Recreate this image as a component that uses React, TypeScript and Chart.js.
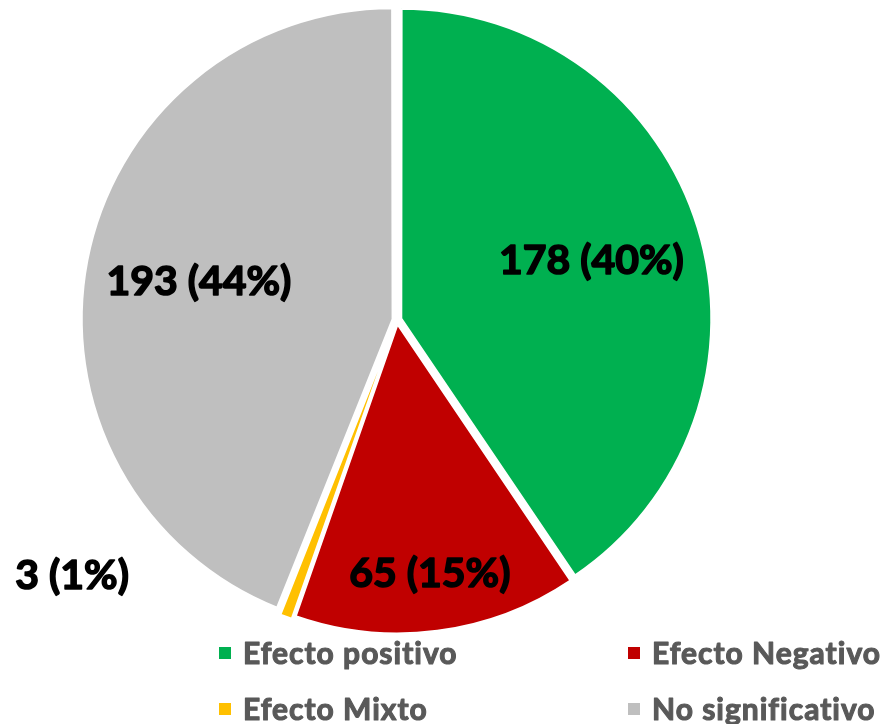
import React, { useEffect, useRef } from "react";
import { Chart, registerables } from "chart.js";

Chart.register(...registerables);

const categories = ["Efecto positivo", "Efecto Negativo", "Efecto Mixto", "No significativo"];
const counts = [178, 65, 3, 193];
const percentLabels = ["40%", "15%", "1%", "44%"];
const colors = ["#00B050", "#C00000", "#FFC000", "#BFBFBF"];

// label placement: radial fraction of the outer radius, plus pixel shift
const labelRadius = [0.66, 0.83, 1.0, 0.655];
const labelShift: [number, number][] = [[0, 0], [0, 0], [-217, -33], [0, 0]];

const labelPlugin = {
  id: "sliceLabels",
  afterDatasetsDraw(chart: any) {
    const ctx = chart.ctx;
    const meta = chart.getDatasetMeta(0);
    ctx.save();
    ctx.font = "bold 41px Lato";
    ctx.fillStyle = "#000000";
    ctx.strokeStyle = "#000000";
    ctx.lineWidth = 1.6;
    ctx.lineJoin = "round";
    ctx.textAlign = "center";
    ctx.textBaseline = "middle";
    meta.data.forEach((arc: any, i: number) => {
      const p = arc.getProps(["x", "y", "startAngle", "endAngle", "outerRadius"], true);
      const mid = (p.startAngle + p.endAngle) / 2;
      const r = p.outerRadius * labelRadius[i];
      const x = p.x + Math.cos(mid) * r + labelShift[i][0];
      const y = p.y + Math.sin(mid) * r + labelShift[i][1];
      const t = `${counts[i]} (${percentLabels[i]})`;
      ctx.fillText(t, x, y);
      ctx.strokeText(t, x, y);
    });
    ctx.restore();
  },
};

const legendPlugin = {
  id: "gridLegend",
  afterDraw(chart: any) {
    const ctx = chart.ctx;
    const area = chart.chartArea;
    const colX = [area.left + 140, area.left + 549];
    const rowY = [area.bottom + 15, area.bottom + 71];
    ctx.save();
    ctx.font = "bold 30px Lato";
    (ctx as any).letterSpacing = "1px";
    ctx.textBaseline = "middle";
    ctx.textAlign = "left";
    ctx.lineWidth = 1.1;
    ctx.lineJoin = "round";
    categories.forEach((c, i) => {
      const col = i % 2;
      const row = Math.floor(i / 2);
      const x = colX[col];
      const y = rowY[row];
      ctx.fillStyle = colors[i];
      ctx.fillRect(x, y - 6, 12, 12);
      ctx.fillStyle = "#595959";
      ctx.strokeStyle = "#595959";
      ctx.fillText(c, x + 24, y + 1);
      ctx.strokeText(c, x + 24, y + 1);
    });
    ctx.restore();
  },
};

export default function App() {
  const ref = useRef<HTMLCanvasElement | null>(null);
  useEffect(() => {
    if (!ref.current) return;
    const chart = new Chart(ref.current, {
      type: "pie",
      data: {
        labels: categories,
        datasets: [
          {
            data: counts,
            backgroundColor: colors,
            borderColor: "#ffffff",
            borderWidth: 2,
            offset: 18,
          },
        ],
      },
      options: {
        responsive: false,
        animation: false,
        layout: { padding: { left: 79, right: 179, top: 2, bottom: 86 } },
        plugins: {
          legend: { display: false },
          tooltip: { enabled: false },
        },
      },
      plugins: [labelPlugin, legendPlugin],
    });
    return () => chart.destroy();
  }, []);
  return (
    <div style={{ position: "fixed", left: 0, top: 0, width: 894, height: 724, background: "#ffffff" }}>
      <canvas ref={ref} width={894} height={724} style={{ width: 894, height: 724 }} />
    </div>
  );
}
